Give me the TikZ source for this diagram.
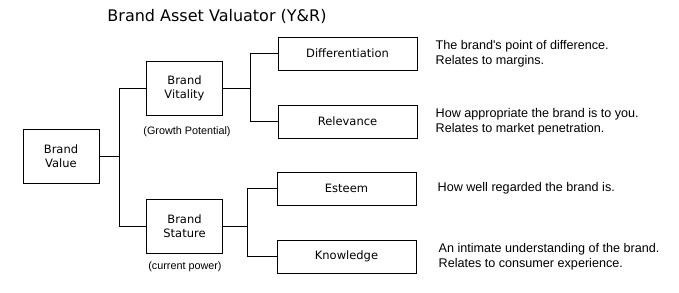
\documentclass[tikz,border=0pt]{standalone}
\usepackage{fontspec}
\setmainfont{DejaVu Sans}
\newfontfamily\notefont{Liberation Sans}
\usetikzlibrary{positioning}

\begin{document}
\begin{tikzpicture}[x=1pt,y=-1pt,
    every node/.style={font=\fontsize{11.5}{14}\selectfont},
    box/.style={draw,line width=0.9pt,minimum width=76pt,minimum height=54pt,align=center,inner sep=0pt},
    leaf/.style={draw,line width=0.9pt,minimum width=139pt,minimum height=33pt,inner sep=0pt},
    note/.style={font=\notefont\fontsize{12.6}{15}\selectfont,align=left,inner sep=0pt},
    tag/.style={font=\notefont\fontsize{10.8}{12}\selectfont,inner sep=0pt},
    link/.style={line width=0.9pt}
  ]
    \useasboundingbox (0,0) rectangle (679,292);
    \node[font=\fontsize{16}{19}\selectfont] (title) at (217,16) {Brand Asset Valuator (Y\&R)};
    \node[box] (value) at (61,156) {Brand\\Value};
    \node[box] (vitality) at (184.5,88) {Brand\\Vitality};
    \node[box] (stature) at (184.5,226) {Brand\\Stature};
    \node[tag] (growth) at (187,132) {(Growth Potential)};
    \node[tag] (power) at (185,267) {(current power)};
    \node[leaf] (diff) at (347.5,53.5) {Differentiation};
    \node[leaf] (relev) at (347.5,121.5) {Relevance};
    \node[leaf] (esteem) at (346.5,188.5) {Esteem};
    \node[leaf] (know) at (346.5,256.5) {Knowledge};
    \node[note,right=18pt of diff] (diffnote) {The brand's point of difference.\\Relates to margins.};
    \node[note,right=18pt of relev] (relevnote) {How appropriate the brand is to you.\\Relates to market penetration.};
    \node[note,right=21pt of esteem] (esteemnote) {How well regarded the brand is.};
    \node[note,right=22pt of know] (knownote) {An intimate understanding of the brand.\\Relates to consumer experience.};
    \coordinate (trunk) at (119,0);
    \coordinate (upfork) at (250,0);
    \coordinate (lowfork) at (247,0);
    \draw[link] (value.east) -- (value.east -| trunk);
    \draw[link] (vitality.west) -- (vitality.west -| trunk) |- (stature.west);
    \draw[link] (vitality.east) -- (vitality.east -| upfork);
    \draw[link] (diff.west) -- (diff.west -| upfork) |- (relev.west);
    \draw[link] (stature.east) -- (stature.east -| lowfork);
    \draw[link] (esteem.west) -- (esteem.west -| lowfork) |- (know.west);
  \end{tikzpicture}
\end{document}
